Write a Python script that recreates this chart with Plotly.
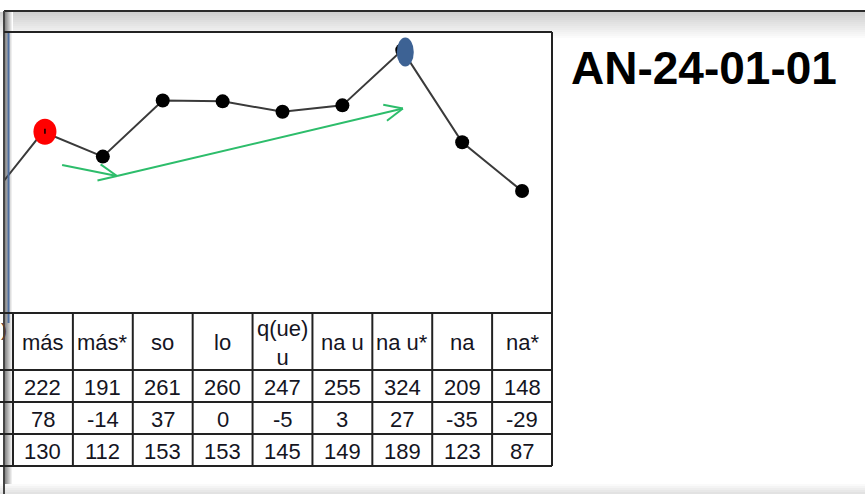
import math
import plotly.graph_objects as go

# ---------------- data ----------------
categories = ["más", "más*", "so", "lo", "q(ue)<br>u", "na u", "na u*", "na", "na*"]
prev_value = 128          # value of the (cut-off) category left of "más"
row1 = [222, 191, 261, 260, 247, 255, 324, 209, 148]
row2 = [78, -14, 37, 0, -5, 3, 27, -35, -29]
row3 = [130, 112, 153, 153, 145, 149, 189, 123, 87]
title_text = "AN-24-01-01"
red_index = 0
blue_index = 6
# green hand-drawn arrows: (tail (x, value), head (x, value)) in data units
green_arrows = [((0.32, 180.5), (1.236, 166.8)),
                ((1.236, 166.8), (6.01, 251.0))]

# ---------------- geometry ----------------
W, H = 865, 494
PL, PR, PT, PB = 4, 552, 32, 312          # plot area in px
T0 = 13                                   # first full table column edge
cw = (PR - T0) / len(categories)
x_lo = (PL - T0) / cw - 0.5
x_hi = len(categories) - 0.5
y_lo, y_hi = -3.0, 346.6
sx = (PR - PL) / (x_hi - x_lo)
sy = (PB - PT) / (y_hi - y_lo)


def fx(p):
    return p / W


def fy(p):
    return 1 - p / H


xs = list(range(len(categories)))

fig = go.Figure()

# connecting line (includes the clipped previous point)
fig.add_trace(go.Scatter(x=[-1] + xs, y=[prev_value] + row1, mode="lines",
                         line=dict(color="#3a3a3a", width=2),
                         hoverinfo="skip", showlegend=False))
fig.add_trace(go.Scatter(x=xs, y=row1, mode="markers",
                         marker=dict(color="black", size=14),
                         showlegend=False))

# green arrows
for (tx, tv), (hx, hv) in green_arrows:
    dx = (hx - tx) * sx
    dy = -(hv - tv) * sy
    L = math.hypot(dx, dy)
    ux, uy = -dx / L, -dy / L
    arms_x, arms_y = [tx, hx], [tv, hv]
    for ang in (24, -24):
        a = math.radians(ang)
        rx = ux * math.cos(a) - uy * math.sin(a)
        ry = ux * math.sin(a) + uy * math.cos(a)
        arms_x += [None, hx, hx + rx * 20 / sx]
        arms_y += [None, hv, hv - ry * 20 / sy]
    fig.add_trace(go.Scatter(x=arms_x, y=arms_y, mode="lines",
                             line=dict(color="#2dbd6b", width=2),
                             hoverinfo="skip", showlegend=False))

shapes = []


def rect(x0, y0, x1, y1, color, layer="below"):
    shapes.append(dict(type="rect", xref="paper", yref="paper",
                       x0=fx(x0), x1=fx(x1), y0=fy(y1), y1=fy(y0),
                       fillcolor=color, line=dict(width=0), layer=layer))


def line(x0, y0, x1, y1, color="#222222", width=2):
    shapes.append(dict(type="line", xref="paper", yref="paper",
                       x0=fx(x0), x1=fx(x1), y0=fy(y0), y1=fy(y1),
                       line=dict(color=color, width=width), layer="above"))


# top gradient band
steps = 14
for k in range(steps):
    g = int(208 + (255 - 208) * k / (steps - 1))
    rect(0, 12 + 2 * k, W, 14 + 2 * k, f"rgb({g},{g},{g})")
# chart box
rect(PL, PT, PR, 466, "white")
# left shadow
for k in range(8):
    g = int(140 + (255 - 140) * k / 7)
    rect(5 + k, 12, 6 + k, H, f"rgb({g},{g},{g})")
# bottom band
for k in range(5):
    g = int(250 - 6 * k)
    rect(0, 484 + 2 * k, W, 486 + 2 * k, f"rgb({g},{g},{g})")

# frame lines
line(4, 11, W, 11, "#2a2a2a")
line(4, 11, 4, H, "#444444")
line(PL, PT, PR, PT, "#222222")
line(PR, PT, PR, 466, "#222222")
line(8.5, 33, 8.5, 323, "#4f6f9f", 2)

# table grid
row_edges = [313, 370, 402, 434, 466]
for yy in row_edges:
    line(0, yy, PR, yy)
for k in range(len(categories) + 1):
    xx = T0 + cw * k
    line(xx, 313, xx, 466)


# highlighted markers (ellipses in data units)
def ellipse(i, v, wpx, hpx, color, offx=0, offy=0):
    cx = i + offx / sx
    cv = v - offy / sy
    shapes.append(dict(type="circle", xref="x", yref="y",
                       x0=cx - wpx / 2 / sx, x1=cx + wpx / 2 / sx,
                       y0=cv - hpx / 2 / sy, y1=cv + hpx / 2 / sy,
                       fillcolor=color, line=dict(width=0), layer="above"))


ellipse(red_index, row1[red_index], 23, 26, "#ff0000", 2, 0)
shapes.append(dict(type="line", xref="x", yref="y",
                   x0=red_index + 2 / sx, x1=red_index + 2 / sx,
                   y0=row1[red_index] - 2 / sy, y1=row1[red_index] + 3 / sy,
                   line=dict(color="black", width=1.5), layer="above"))
ellipse(blue_index, row1[blue_index], 17, 29, "#3d6294", 3, 2)

annotations = []
font_tbl = dict(family="Liberation Sans, Arial, sans-serif", size=22, color="#15151f")
row_centers = [(row_edges[j] + row_edges[j + 1]) / 2 for j in range(4)]
rows = [categories, row1, row2, row3]
for j, r in enumerate(rows):
    for i, val in enumerate(r):
        annotations.append(dict(x=i, y=fy(row_centers[j] + 1), xref="x", yref="paper",
                                text=str(val), showarrow=False, font=font_tbl,
                                xanchor="center", yanchor="middle"))
annotations.append(dict(x=0, y=fy(330), xref="paper", yref="paper", text=")",
                        showarrow=False, font=dict(family="Liberation Sans", size=18, color="#5a3a2a"),
                        xanchor="left", yanchor="middle", xshift=-1))
annotations.append(dict(x=fx(704), y=fy(68), xref="paper", yref="paper", text=f"<b>{title_text}</b>",
                        showarrow=False,
                        font=dict(family="Liberation Sans, Arial, sans-serif", size=46, color="black"),
                        xanchor="center", yanchor="middle"))

fig.update_layout(
    width=W, height=H,
    margin=dict(l=0, r=0, t=0, b=0),
    paper_bgcolor="white",
    plot_bgcolor="rgba(0,0,0,0)",
    showlegend=False,
    xaxis=dict(domain=[fx(PL), fx(PR)], range=[x_lo, x_hi], visible=False, fixedrange=True),
    yaxis=dict(domain=[fy(PB), fy(PT)], range=[y_lo, y_hi], visible=False, fixedrange=True),
    shapes=shapes,
    annotations=annotations,
)

fig.write_html("out.html", config={"displayModeBar": False},
               post_script="document.body.style.margin='0';document.body.style.overflow='hidden';")
